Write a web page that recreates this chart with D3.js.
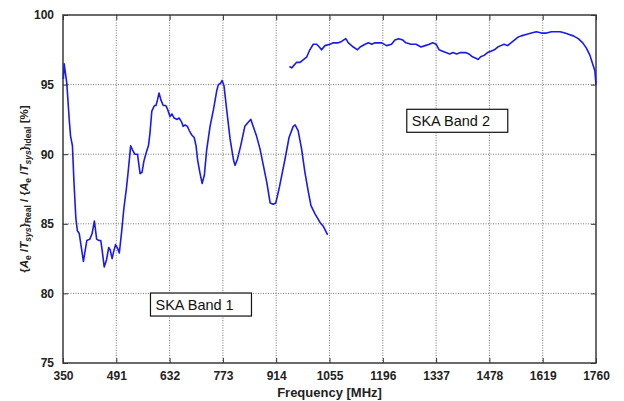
<!DOCTYPE html>
<html>
<head>
<meta charset="utf-8">
<script src="https://cdn.jsdelivr.net/npm/d3@7"></script>
<style>
  body { margin: 0; background: #fff; }
  .tick text { font-family: "Liberation Sans", Arial, sans-serif; font-weight: bold; font-size: 12px; fill: #222; }
  .grid line { stroke: #555; stroke-dasharray: 1,1.5; stroke-width: 0.8; }
  .label { font-family: "Liberation Sans", Arial, sans-serif; font-weight: bold; font-size: 13px; fill: #222; }
  .note { font-family: "Liberation Sans", Arial, sans-serif; font-size: 14.5px; fill: #111; }
</style>
</head>
<body>
<svg id="chart"></svg>
<script>
// band 1 (350 - 1050 MHz)
var band1Freq = [351, 353, 360, 367, 370, 375, 379, 384, 388, 393, 404, 413, 421, 427, 433, 439, 445, 450, 454, 459,
  465, 471, 475, 480, 484, 489, 495, 499, 505, 511, 518, 523, 529, 534, 540, 547, 550, 554, 559, 564,
  571, 576, 580, 585, 592, 596, 600, 604, 609, 615, 622, 627, 633, 638, 644, 652, 657, 664, 668, 673,
  679, 684, 690, 697, 702, 706, 712, 718, 724, 730, 739, 748, 757, 761, 767, 771, 776, 783, 792, 801,
  805, 811, 820, 831, 840, 847, 853, 862, 871, 880, 889, 898, 906, 913, 923, 937, 948, 959, 964, 972,
  981, 990, 999, 1006, 1017, 1030, 1039, 1050];
var band1Val = [95.4, 96.5, 95.1, 92.3, 91.3, 90.6, 88.0, 85.4, 84.5, 84.3, 82.3, 83.8, 83.9, 84.3, 85.2, 83.9, 83.8, 83.8, 83.0, 81.9,
  82.4, 83.3, 83.1, 82.5, 83.0, 83.5, 83.2, 82.9, 84.4, 86.1, 87.6, 88.9, 90.6, 90.3, 90.0, 90.0, 89.4, 88.6, 88.7, 89.5,
  90.2, 90.6, 91.5, 93.1, 93.5, 93.5, 93.9, 94.4, 93.9, 93.5, 93.5, 93.2, 92.7, 92.9, 92.6, 92.5, 92.6, 92.3, 92.0, 92.1,
  92.0, 91.7, 91.4, 91.2, 90.6, 89.6, 88.7, 87.9, 88.5, 90.3, 92.0, 93.2, 94.6, 95.0, 95.1, 95.3, 94.9, 93.2, 91.1, 89.6,
  89.2, 89.6, 90.6, 92.0, 92.3, 92.5, 92.0, 91.3, 90.4, 89.2, 88.0, 86.5, 86.4, 86.5, 87.7, 89.6, 91.2, 92.0, 92.1, 91.7,
  90.4, 88.7, 87.3, 86.3, 85.7, 85.1, 84.8, 84.2];

// band 2 (950 - 1760 MHz)
var band2Freq = [949, 955, 968, 977, 986, 995, 1003, 1012, 1021, 1028, 1034, 1043, 1056, 1065, 1078, 1087, 1098, 1105, 1118, 1129,
  1136, 1149, 1158, 1167, 1175, 1184, 1193, 1206, 1219, 1228, 1238, 1249, 1257, 1271, 1284, 1297, 1308, 1319, 1328, 1337,
  1345, 1354, 1363, 1373, 1382, 1391, 1402, 1415, 1424, 1433, 1442, 1448, 1455, 1464, 1473, 1482, 1491, 1500, 1508, 1517,
  1526, 1535, 1544, 1553, 1562, 1575, 1589, 1602, 1616, 1629, 1642, 1654, 1665, 1678, 1689, 1700, 1713, 1725, 1735, 1744,
  1751, 1757, 1760];
var band2Val = [96.3, 96.2, 96.6, 96.6, 96.8, 97.0, 97.5, 97.9, 97.9, 97.7, 97.5, 97.8, 97.9, 98.0, 98.0, 98.1, 98.3, 98.0, 97.7, 97.5,
  97.7, 97.9, 98.0, 97.9, 98.0, 98.0, 98.0, 97.8, 97.9, 98.2, 98.3, 98.2, 98.0, 97.9, 97.9, 97.7, 97.8, 97.9, 98.0, 97.9,
  97.5, 97.4, 97.3, 97.2, 97.3, 97.2, 97.3, 97.3, 97.2, 97.0, 96.9, 96.8, 97.0, 97.1, 97.3, 97.4, 97.5, 97.7, 97.8, 97.9,
  97.8, 98.0, 98.2, 98.4, 98.5, 98.6, 98.7, 98.8, 98.7, 98.7, 98.8, 98.8, 98.8, 98.7, 98.6, 98.5, 98.3, 98.0, 97.6, 97.1,
  96.5, 96.0, 95.0];

var xTicks = [350, 491, 632, 773, 914, 1055, 1196, 1337, 1478, 1619, 1760];
var yTicks = [75, 80, 85, 90, 95, 100];

var noteText = ["SKA Band 1", "SKA Band 2"];
var noteFreq = [715, 1393];
var noteVal = [79.2, 92.4];

var margin = {top: 15, right: 28, bottom: 37, left: 63};
var width = 624 - margin.left - margin.right;
var height = 401 - margin.top - margin.bottom - 1;

var svg = d3.select("#chart")
  .attr("width", 624)
  .attr("height", 401);

var chart = svg.append("g")
  .attr("transform", "translate(" + margin.left + "," + margin.top + ")");

var x = d3.scaleLinear().domain([350, 1760]).range([0, width]);
var y = d3.scaleLinear().domain([75, 100]).range([height, 0]);

// grid
chart.append("g")
  .attr("class", "grid")
  .selectAll("line")
  .data(xTicks.slice(1, -1))
  .enter().append("line")
  .attr("x1", function(d) { return x(d); })
  .attr("x2", function(d) { return x(d); })
  .attr("y1", 0)
  .attr("y2", height);

chart.append("g")
  .attr("class", "grid")
  .selectAll("line")
  .data(yTicks.slice(1, -1))
  .enter().append("line")
  .attr("x1", 0)
  .attr("x2", width)
  .attr("y1", function(d) { return y(d); })
  .attr("y2", function(d) { return y(d); });

// axes, ticks pointing inward
var xAxis = d3.axisBottom(x).tickValues(xTicks).tickFormat(d3.format("d"))
  .tickSizeInner(-5).tickSizeOuter(0).tickPadding(8);
var yAxis = d3.axisLeft(y).tickValues(yTicks).tickFormat(d3.format("d"))
  .tickSizeInner(-5).tickSizeOuter(0).tickPadding(9);

chart.append("g")
  .attr("transform", "translate(0," + height + ")")
  .call(xAxis);
chart.append("g").call(yAxis);

chart.append("g")
  .call(d3.axisTop(x).tickValues(xTicks).tickSizeInner(-5).tickSizeOuter(0).tickFormat(""));
chart.append("g")
  .attr("transform", "translate(" + width + ",0)")
  .call(d3.axisRight(y).tickValues(yTicks).tickSizeInner(-5).tickSizeOuter(0).tickFormat(""));

chart.selectAll(".domain").remove();
chart.selectAll(".tick line").attr("stroke", "#333").attr("stroke-width", 1);

chart.append("rect")
  .attr("width", width)
  .attr("height", height)
  .attr("fill", "none")
  .attr("stroke", "#3a3a3a")
  .attr("stroke-width", 1.5);

// curves
var line = d3.line()
  .x(function(d) { return x(d[0]); })
  .y(function(d) { return y(d[1]); });

[d3.zip(band1Freq, band1Val), d3.zip(band2Freq, band2Val)].forEach(function(pts) {
  chart.append("path")
    .datum(pts)
    .attr("fill", "none")
    .attr("stroke", "#1a1aee")
    .attr("stroke-width", 1.6)
    .attr("stroke-linejoin", "round")
    .attr("d", line);
});

// text boxes
noteText.forEach(function(txt, i) {
  var g = chart.append("g");
  g.append("rect")
    .attr("x", x(noteFreq[i]) - 50.5)
    .attr("y", y(noteVal[i]) - 11.5)
    .attr("width", 101)
    .attr("height", 23)
    .attr("fill", "#fff")
    .attr("stroke", "#111")
    .attr("stroke-width", 1.2);
  g.append("text")
    .attr("class", "note")
    .attr("x", x(noteFreq[i]) - 45.5)
    .attr("y", y(noteVal[i]))
    .attr("dy", "0.36em")
    .text(txt);
});

// axis labels
chart.append("text")
  .attr("class", "label")
  .attr("x", width / 2)
  .attr("y", height + 34)
  .attr("text-anchor", "middle")
  .text("Frequency [MHz]");

var yl = chart.append("text")
  .attr("class", "label")
  .style("font-size", "11.5px");

function ratio(sel, sub) {
  sel.append("tspan").text("{");
  sel.append("tspan").style("font-style", "italic").text("A");
  sel.append("tspan").attr("dy", 3).style("font-size", "8.5px").text("e");
  sel.append("tspan").attr("dy", -3).text(" /");
  sel.append("tspan").style("font-style", "italic").text("T");
  sel.append("tspan").attr("dy", 3).style("font-size", "8.5px").style("font-style", "italic").text("sys");
  sel.append("tspan").attr("dy", -3).text("}");
  sel.append("tspan").attr("dy", 3).style("font-size", "8.5px").text(sub);
}
ratio(yl, "Real");
yl.append("tspan").attr("dy", -3).text(" / ");
ratio(yl, "Ideal");
yl.append("tspan").attr("dy", -3).text(" [%]");

// center the rotated label on the plot
var lb = yl.node().getBBox();
yl.attr("transform", "translate(-35," + (height / 2 + lb.x + lb.width / 2) + ") rotate(-90)");
</script>
</body>
</html>
